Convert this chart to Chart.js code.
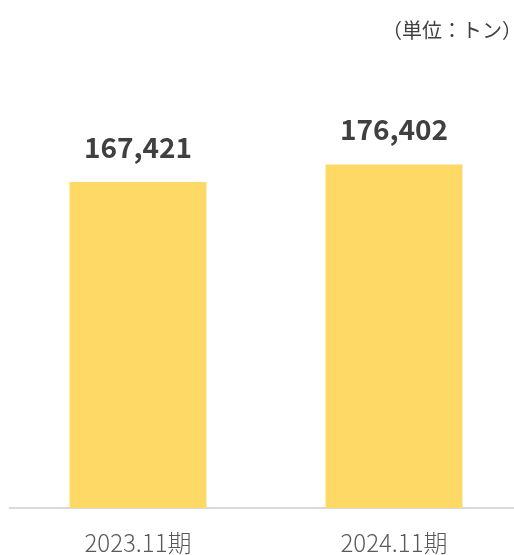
<!DOCTYPE html>
<html>
<head>
<meta charset="utf-8">
<script src="https://cdn.jsdelivr.net/npm/chart.js@4/dist/chart.umd.min.js"></script>
<style>
html,body{margin:0;padding:0;background:#fff;overflow:hidden;}
#wrap{position:relative;width:514px;height:555px;overflow:hidden;}
#c{position:absolute;left:0;top:0;}
#unit{position:absolute;right:-8px;top:16px;font-family:"Noto Sans CJK JP",sans-serif;font-size:20px;line-height:28px;color:#404040;white-space:nowrap;}
</style>
</head>
<body>
<div id="wrap">
<canvas id="c" width="524" height="555"></canvas>
<div id="unit"></div>
</div>
<script>
const categories = ["2023.11期", "2024.11期"];
const volumes = [167421, 176402];
const unitLabel = "（単位：トン）";

document.getElementById('unit').textContent = unitLabel;

const valueLabels = {
  id: 'valueLabels',
  afterDatasetsDraw(chart) {
    const ctx = chart.ctx;
    const meta = chart.getDatasetMeta(0);
    ctx.save();
    ctx.font = 'bold 28px "Noto Sans CJK JP", sans-serif';
    ctx.fillStyle = '#404040';
    ctx.textAlign = 'center';
    ctx.textBaseline = 'alphabetic';
    meta.data.forEach((bar, i) => {
      ctx.fillText(volumes[i].toLocaleString('en-US'), bar.x, bar.y - 24);
    });
    ctx.restore();
  }
};

new Chart(document.getElementById('c'), {
  type: 'bar',
  data: {
    labels: categories,
    datasets: [{
      data: volumes,
      backgroundColor: '#FFD966',
      borderWidth: 0,
      categoryPercentage: 1,
      barPercentage: 0.535
    }]
  },
  options: {
    responsive: false,
    animation: false,
    devicePixelRatio: 1,
    layout: { padding: { top: 60, left: 10, right: 2, bottom: 0 } },
    plugins: { legend: { display: false }, tooltip: { enabled: false } },
    scales: {
      x: {
        grid: { display: false },
        border: { display: true, color: '#D9D9D9', width: 2 },
        ticks: {
          color: '#595959',
          font: { family: '"Noto Sans CJK JP", sans-serif', size: 24, weight: 300 },
          padding: 12
        },
        afterFit(scale) { scale.height = 47; }
      },
      y: {
        display: false,
        min: 0,
        max: 230000
      }
    }
  },
  plugins: [valueLabels]
});
</script>
</body>
</html>
